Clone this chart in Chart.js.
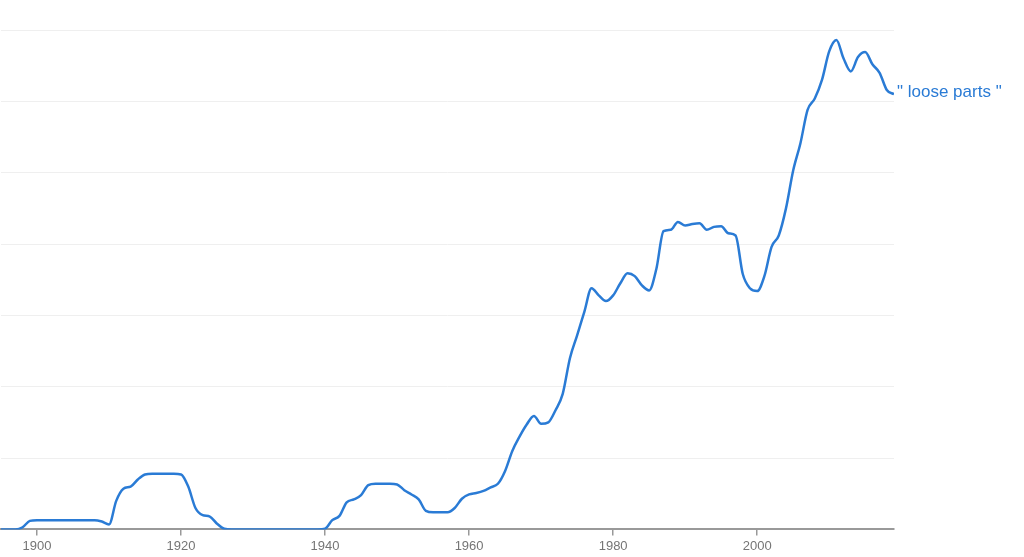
<!DOCTYPE html>
<html>
<head>
<meta charset="utf-8">
<script src="https://cdn.jsdelivr.net/npm/chart.js@4.4.1/dist/chart.umd.min.js"></script>
<style>
  html, body { margin: 0; padding: 0; background: #fff; }
  #wrap { width: 1024px; height: 557px; position: relative; }
</style>
</head>
<body>
<div id="wrap"><canvas id="myChart"></canvas></div>
<script>
const SERIES_NAME = '" loose parts "';

// one value per year, 1895..2019
const FIRST_YEAR = 1895;
const values = [
  0, 0, 0, 0.03, 0.12,                                  // 1895-1899
  0.13, 0.13, 0.13, 0.13, 0.13, 0.13, 0.13, 0.13, 0.13, 0.11, // 1900-1909
  0.07, 0.4, 0.57, 0.6, 0.7, 0.77, 0.78, 0.78, 0.78, 0.78,    // 1910-1919
  0.77, 0.6, 0.3, 0.2, 0.18, 0.08, 0.01, 0, 0, 0,             // 1920-1929
  0, 0, 0, 0, 0, 0, 0, 0, 0, 0,                               // 1930-1939
  0.01, 0.13, 0.19, 0.38, 0.42, 0.48, 0.62, 0.64, 0.64, 0.64, // 1940-1949
  0.63, 0.55, 0.49, 0.42, 0.26, 0.24, 0.24, 0.24, 0.3, 0.43,  // 1950-1959
  0.49, 0.51, 0.54, 0.59, 0.64, 0.82, 1.1, 1.3, 1.47, 1.59,   // 1960-1969
  1.48, 1.5, 1.67, 1.9, 2.4, 2.72, 3.05, 3.38, 3.28, 3.2,     // 1970-1979
  3.28, 3.45, 3.59, 3.55, 3.42, 3.35, 3.65, 4.18, 4.2, 4.31,  // 1980-1989
  4.26, 4.28, 4.29, 4.2, 4.24, 4.25, 4.15, 4.12, 3.58, 3.38,  // 1990-1999
  3.34, 3.55, 3.96, 4.12, 4.5, 5.03, 5.41, 5.88, 6.04, 6.3,   // 2000-2009
  6.7, 6.86, 6.6, 6.42, 6.62, 6.69, 6.52, 6.4, 6.16, 6.1      // 2010-2019
];
const years = values.map((v, i) => FIRST_YEAR + i);
const xTicks = [1900, 1920, 1940, 1960, 1980, 2000];
const yTicks = [0, 1, 2, 3, 4, 5, 6, 7];

const LINE_COLOR = '#2a7bd5';

// draws the series name next to the last point
const endLabel = {
  id: 'endLabel',
  afterDatasetsDraw(chart) {
    const meta = chart.getDatasetMeta(0);
    const last = meta.data[meta.data.length - 1];
    const ctx = chart.ctx;
    ctx.save();
    ctx.font = '17px "Liberation Sans", Arial, sans-serif';
    ctx.fillStyle = LINE_COLOR;
    ctx.textBaseline = 'middle';
    ctx.textAlign = 'left';
    ctx.fillText(SERIES_NAME, last.x + 3, last.y - 2);
    ctx.restore();
  }
};

new Chart(document.getElementById('myChart'), {
  type: 'line',
  data: {
    datasets: [{
      label: SERIES_NAME,
      data: years.map((y, i) => ({x: y, y: values[i]})),
      borderColor: LINE_COLOR,
      borderWidth: 2.5,
      pointRadius: 0,
      cubicInterpolationMode: 'monotone',
      fill: false
    }]
  },
  options: {
    responsive: true,
    maintainAspectRatio: false,
    animation: false,
    layout: {padding: {top: 30, right: 130, left: 1, bottom: 0}},
    plugins: {legend: {display: false}, tooltip: {enabled: false}},
    scales: {
      x: {
        type: 'linear',
        min: years[0],
        max: years[years.length - 1],
        afterBuildTicks: (scale) => { scale.ticks = xTicks.map(v => ({value: v})); },
        ticks: {
          color: '#757575',
          font: {size: 13, family: '"Liberation Sans", Arial, sans-serif'},
          padding: 3,
          maxRotation: 0,
          callback: (v) => String(v)
        },
        grid: {drawOnChartArea: false, drawTicks: true, tickLength: 6, color: '#999', lineWidth: 1.5},
        border: {color: '#999', width: 2}
      },
      y: {
        min: 0,
        max: 7,
        afterBuildTicks: (scale) => { scale.ticks = yTicks.map(v => ({value: v})); },
        ticks: {display: false},
        grid: {drawTicks: false, color: '#efefef', lineWidth: 1},
        border: {display: false}
      }
    }
  },
  plugins: [endLabel]
});
</script>
</body>
</html>
